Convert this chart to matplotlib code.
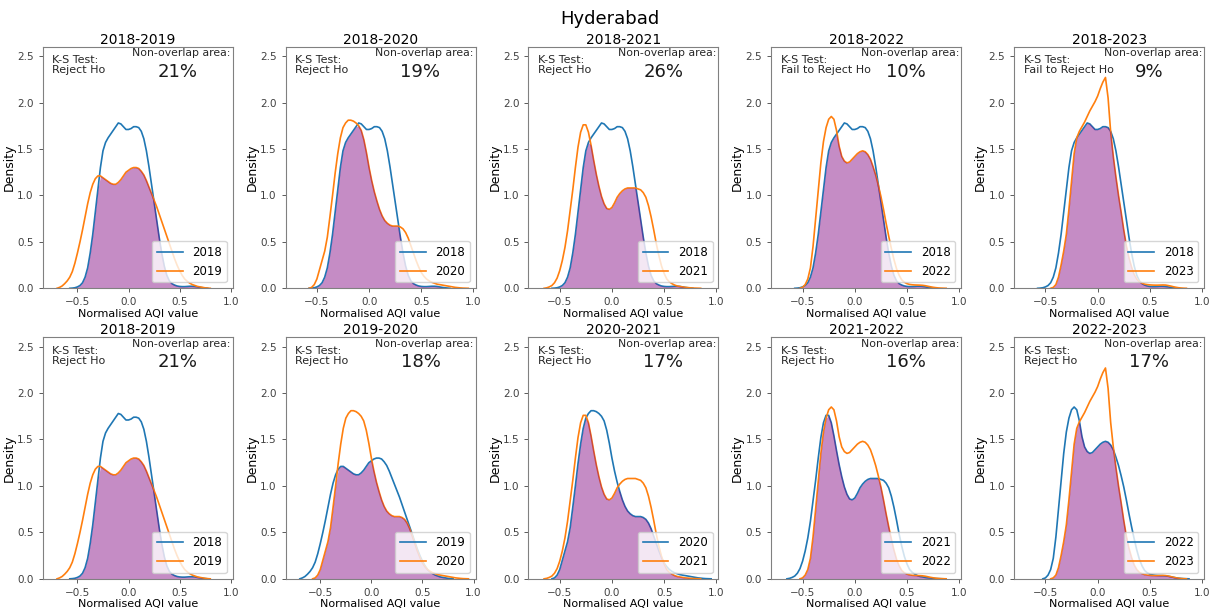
#!/usr/bin/env python
# Hyderabad: KDE of normalised AQI values, year against year, with the overlap shaded

import numpy as np
import matplotlib
matplotlib.use('Agg')
import matplotlib.pyplot as plt

pngname = 'out.png'

nan = np.nan

# common grid of normalised AQI values (step 0.025, -0.70 .. 0.95)
aqi_grid = [-0.700, -0.675, -0.650, -0.625, -0.600, -0.575, -0.550, -0.525, -0.500, -0.475,
            -0.450, -0.425, -0.400, -0.375, -0.350, -0.325, -0.300, -0.275, -0.250, -0.225,
            -0.200, -0.175, -0.150, -0.125, -0.100, -0.075, -0.050, -0.025, 0.000, 0.025,
            0.050, 0.075, 0.100, 0.125, 0.150, 0.175, 0.200, 0.225, 0.250, 0.275,
            0.300, 0.325, 0.350, 0.375, 0.400, 0.425, 0.450, 0.475, 0.500, 0.525,
            0.550, 0.575, 0.600, 0.625, 0.650, 0.675, 0.700, 0.725, 0.750, 0.775,
            0.800, 0.825, 0.850, 0.875, 0.900, 0.925, 0.950]

# density of each year
dens_2018 = [nan, nan, nan, nan, nan, 0.0, 0.002, 0.006, 0.015, 0.03,
             0.06, 0.12, 0.22, 0.38, 0.58, 0.82, 1.06, 1.30, 1.48, 1.57,
             1.62, 1.66, 1.70, 1.74, 1.78, 1.77, 1.74, 1.71, 1.71, 1.72,
             1.74, 1.74, 1.73, 1.69, 1.61, 1.48, 1.31, 1.12, 0.93, 0.74,
             0.55, 0.38, 0.24, 0.14, 0.08, 0.05, 0.035, 0.025, 0.02, 0.018,
             0.018, 0.02, 0.022, 0.022, 0.02, 0.015, 0.01, 0.006, 0.003, 0.0,
             nan, nan, nan, nan, nan, nan, nan]
dens_2019 = [0.0, 0.01, 0.025, 0.05, 0.08, 0.12, 0.18, 0.27, 0.38, 0.50,
             0.63, 0.77, 0.91, 1.03, 1.12, 1.18, 1.21, 1.21, 1.19, 1.17,
             1.15, 1.13, 1.12, 1.12, 1.14, 1.17, 1.21, 1.25, 1.27, 1.29,
             1.30, 1.30, 1.29, 1.26, 1.22, 1.16, 1.09, 1.02, 0.95, 0.88,
             0.80, 0.72, 0.64, 0.56, 0.48, 0.40, 0.32, 0.25, 0.19, 0.14,
             0.10, 0.075, 0.055, 0.04, 0.03, 0.02, 0.015, 0.01, 0.005, 0.002,
             0.0, nan, nan, nan, nan, nan, nan]
dens_2020 = [nan, nan, nan, nan, nan, 0.0, 0.01, 0.04, 0.10, 0.20,
             0.30, 0.40, 0.55, 0.77, 1.00, 1.24, 1.45, 1.62, 1.73, 1.78,
             1.81, 1.81, 1.80, 1.78, 1.75, 1.70, 1.60, 1.46, 1.30, 1.16,
             1.04, 0.94, 0.85, 0.78, 0.73, 0.70, 0.68, 0.67, 0.67, 0.67,
             0.66, 0.64, 0.60, 0.54, 0.46, 0.38, 0.30, 0.23, 0.17, 0.13,
             0.10, 0.08, 0.065, 0.055, 0.045, 0.04, 0.035, 0.03, 0.025, 0.02,
             0.015, 0.01, 0.007, 0.004, 0.002, 0.001, 0.0]
dens_2021 = [nan, nan, 0.0, 0.005, 0.015, 0.03, 0.06, 0.11, 0.19, 0.30,
             0.44, 0.62, 0.84, 1.06, 1.30, 1.52, 1.68, 1.76, 1.76, 1.68,
             1.54, 1.38, 1.23, 1.10, 0.99, 0.91, 0.86, 0.85, 0.87, 0.92,
             0.98, 1.02, 1.05, 1.07, 1.08, 1.08, 1.08, 1.08, 1.07, 1.06,
             1.03, 0.98, 0.89, 0.77, 0.63, 0.48, 0.35, 0.24, 0.16, 0.10,
             0.07, 0.05, 0.035, 0.025, 0.02, 0.015, 0.01, 0.008, 0.005, 0.003,
             0.002, 0.001, 0.0, nan, nan, nan, nan]
dens_2022 = [nan, nan, nan, nan, nan, nan, nan, 0.0, 0.01, 0.04,
             0.10, 0.22, 0.45, 0.75, 1.05, 1.35, 1.58, 1.73, 1.82, 1.85,
             1.82, 1.70, 1.53, 1.42, 1.37, 1.35, 1.36, 1.39, 1.42, 1.45,
             1.47, 1.48, 1.47, 1.44, 1.39, 1.31, 1.22, 1.11, 0.99, 0.85,
             0.70, 0.56, 0.43, 0.31, 0.21, 0.14, 0.09, 0.065, 0.05, 0.042,
             0.038, 0.036, 0.035, 0.034, 0.032, 0.028, 0.022, 0.016, 0.011, 0.007,
             0.004, 0.002, 0.001, 0.0, nan, nan, nan]
dens_2023 = [nan, nan, nan, nan, nan, nan, nan, nan, nan, nan,
             0.0, 0.01, 0.04, 0.12, 0.25, 0.40, 0.58, 0.85, 1.15, 1.45,
             1.62, 1.69, 1.74, 1.79, 1.85, 1.91, 1.96, 2.01, 2.07, 2.15,
             2.22, 2.27, 2.05, 1.68, 1.42, 1.20, 1.00, 0.82, 0.63, 0.46,
             0.33, 0.23, 0.15, 0.10, 0.07, 0.055, 0.045, 0.04, 0.037, 0.035,
             0.034, 0.034, 0.035, 0.036, 0.035, 0.03, 0.024, 0.017, 0.011, 0.006,
             0.003, 0.001, 0.0, nan, nan, nan, nan]

density = {'2018': dens_2018, '2019': dens_2019, '2020': dens_2020,
           '2021': dens_2021, '2022': dens_2022, '2023': dens_2023}

# pairs shown, K-S result and non-overlap area (top row vs 2018, bottom row consecutive)
pairs = [('2018', '2019'), ('2018', '2020'), ('2018', '2021'), ('2018', '2022'), ('2018', '2023'),
         ('2018', '2019'), ('2019', '2020'), ('2020', '2021'), ('2021', '2022'), ('2022', '2023')]
ks_result = ['Reject Ho', 'Reject Ho', 'Reject Ho', 'Fail to Reject Ho', 'Fail to Reject Ho',
             'Reject Ho', 'Reject Ho', 'Reject Ho', 'Reject Ho', 'Reject Ho']
non_overlap = ['21%', '19%', '26%', '10%', '9%',
               '21%', '18%', '17%', '16%', '17%']

x = np.array(aqi_grid)

fig, axes = plt.subplots(2, 5, figsize=(12.2, 6.08), dpi=100)
fig.subplots_adjust(left=0.035, right=0.987, bottom=0.048, top=0.923,
                    wspace=0.278, hspace=0.203)

for k, ax in enumerate(axes.flat):
    y1, y2 = pairs[k]
    d1 = np.array(density[y1])
    d2 = np.array(density[y2])

    ax.plot(x, d1, color='tab:blue', lw=1.2, label=y1)
    ax.plot(x, d2, color='tab:orange', lw=1.2, label=y2)

    # overlap area = min of both densities
    ov = np.minimum(np.nan_to_num(d1), np.nan_to_num(d2))
    ax.fill_between(x, 0, ov, color='purple', alpha=0.45, lw=0, zorder=2.5)

    if '2019' in (y1, y2):
        ax.set_xlim(-0.84, 1.02)
    else:
        ax.set_xlim(-0.80, 1.02)
    ax.set_ylim(0, 2.6)
    ax.set_xticks([-0.5, 0.0, 0.5, 1.0])
    ax.set_yticks([0.0, 0.5, 1.0, 1.5, 2.0, 2.5])
    ax.tick_params(labelsize=7.5, length=3, width=0.6, colors='0.25')
    for sp in ax.spines.values():
        sp.set_color('0.5')
        sp.set_linewidth(0.8)

    ax.set_title(y1 + '-' + y2, fontsize=10, pad=2)
    ax.set_xlabel('Normalised AQI value', fontsize=8, labelpad=1)
    ax.set_ylabel('Density', fontsize=9, labelpad=1)

    ax.text(0.05, 0.965, 'K-S Test:\n' + ks_result[k], transform=ax.transAxes,
            ha='left', va='top', fontsize=8, color='0.15', linespacing=1.0)
    ax.text(0.99, 0.995, 'Non-overlap area:', transform=ax.transAxes,
            ha='right', va='top', fontsize=7.8, color='0.15')
    ax.text(0.71, 0.935, non_overlap[k], transform=ax.transAxes,
            ha='center', va='top', fontsize=13, color='0.1')

    ax.legend(loc='lower right', fontsize=8.5, handlelength=2.2)

fig.suptitle('Hyderabad', fontsize=13, y=0.983)

# save file
fig.savefig(pngname, dpi=100)
plt.close(fig)
